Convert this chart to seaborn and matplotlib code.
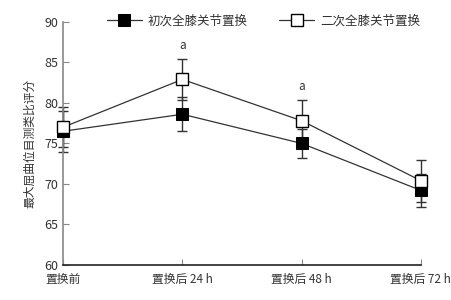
import seaborn as sns
import matplotlib.pyplot as plt
import pandas as pd

# data
times = ['置换前', '置换后 24 h', '置换后 48 h', '置换后 72 h']
first_mean = [76.5, 78.6, 75.0, 69.2]
first_err = [2.5, 2.1, 1.8, 2.0]
second_mean = [77.0, 82.9, 77.8, 70.4]
second_err = [2.5, 2.5, 2.5, 2.6]
groups = ['初次全膝关节置换', '二次全膝关节置换']
sig_marks = ['', 'a', 'a', '']

sns.set_style('ticks')
plt.rcParams['font.family'] = ['Noto Sans CJK SC', 'DejaVu Sans']

df1 = pd.DataFrame({'time': times, 'score': first_mean})
df2 = pd.DataFrame({'time': times, 'score': second_mean})

fig = plt.figure(figsize=(4.51, 3.0), dpi=100)
ax = fig.add_axes([0.14, 0.117, 0.793, 0.81])

pos = list(range(len(times)))
for m, e in [(first_mean, first_err), (second_mean, second_err)]:
    eb = ax.errorbar(pos, m, yerr=e, fmt='none', ecolor='#333333',
                     elinewidth=1.0, capsize=3.5, capthick=1.0, zorder=2)
    for art in eb.lines[1] + eb.lines[2]:
        art.set_clip_on(False)

sns.lineplot(data=df1, x='time', y='score', color='#333333', marker='s',
             markersize=8, markerfacecolor='black', markeredgecolor='black',
             linewidth=0.9, label=groups[0], ax=ax, zorder=3, clip_on=False)
sns.lineplot(data=df2, x='time', y='score', color='#333333', marker='s',
             markersize=8, markerfacecolor='white', markeredgecolor='black',
             markeredgewidth=1.0, linewidth=0.9, label=groups[1], ax=ax, zorder=3,
             clip_on=False)

for i, m in enumerate(sig_marks):
    if m:
        top = second_mean[i] + second_err[i]
        ax.text(i, top + 0.9, m, ha='center', va='bottom', fontsize=8.5, color='#333333')

ax.set_xlim(0, 3)
ax.set_ylim(60, 90)
ax.set_yticks(range(60, 91, 5))
ax.set_xticks(pos)
ax.set_xticklabels(times)
ax.set_xlabel('')
ax.set_ylabel('最大屈曲位目测类比评分', fontsize=8.5, color='#333333', labelpad=6)
ax.tick_params(direction='in', length=4, colors='#888888', labelcolor='#333333', labelsize=9)
ax.tick_params(axis='x', pad=6, labelsize=8.5)
for s in ['top', 'right']:
    ax.spines[s].set_visible(False)
ax.spines['left'].set_color('#888888')
ax.spines['left'].set_linewidth(1.2)
ax.spines['bottom'].set_color('#222222')
ax.spines['bottom'].set_linewidth(1.2)

ax.legend(ncol=2, frameon=False, loc='lower center',
          bbox_to_anchor=(0.56, 0.93), fontsize=9, handlelength=2.8, handletextpad=0.5,
          columnspacing=2.5, labelcolor='#333333')

plt.savefig('out.png', dpi=100)
